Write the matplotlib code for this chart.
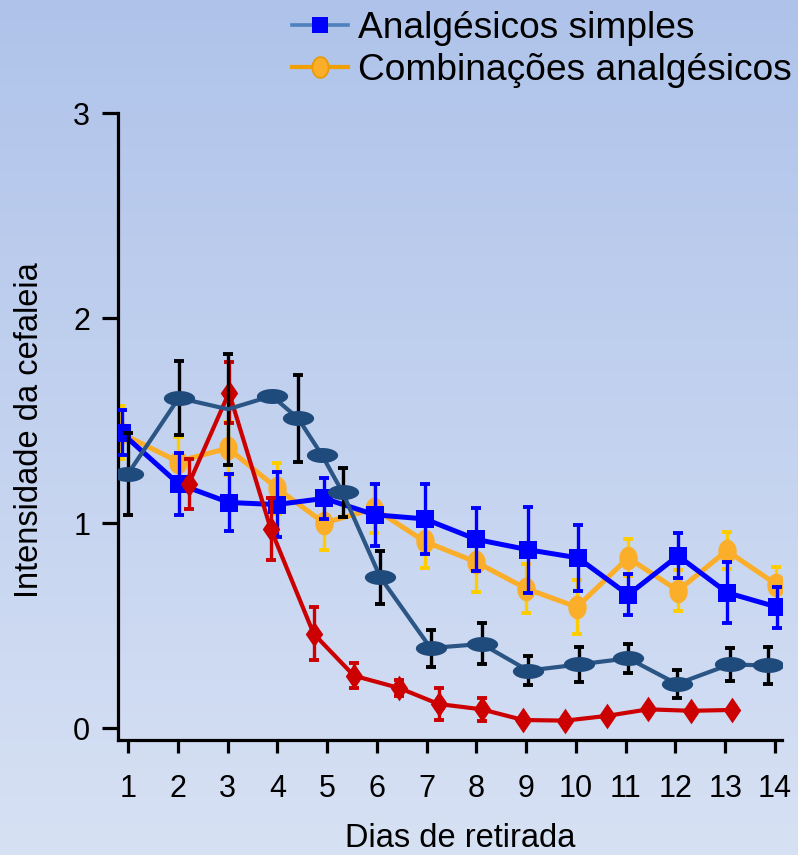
import numpy as np
import matplotlib
matplotlib.use("Agg")
import matplotlib.pyplot as plt
from matplotlib.path import Path
from matplotlib.lines import Line2D
from matplotlib.colors import LinearSegmentedColormap

plt.rcParams['font.family'] = ['Liberation Sans', 'DejaVu Sans']

# ---- data -------------------------------------------------------------
day_ticks = list(range(1, 15))
y_ticks = [0, 1, 2, 3]

simple_x = [0.87, 2.02, 3.03, 3.99, 4.94, 5.96, 6.96, 8.00, 9.03, 10.04, 11.05, 12.05, 13.04, 14.04]
simple_y = [1.44, 1.19, 1.10, 1.09, 1.12, 1.04, 1.02, 0.92, 0.87, 0.83, 0.65, 0.84, 0.66, 0.59]
simple_err = [0.11, 0.15, 0.14, 0.16, 0.10, 0.15, 0.17, 0.155, 0.21, 0.16, 0.10, 0.11, 0.15, 0.10]

combo_x = [0.84, 2.00, 3.01, 3.99, 4.94, 5.95, 6.96, 7.99, 9.00, 10.02, 11.05, 12.05, 13.03, 14.03]
combo_y = [1.44, 1.30, 1.365, 1.17, 1.00, 1.07, 0.91, 0.81, 0.68, 0.59, 0.83, 0.67, 0.865, 0.70]
combo_err = [0.13, 0.12, 0.13, 0.125, 0.13, 0.12, 0.13, 0.145, 0.12, 0.13, 0.09, 0.10, 0.09, 0.085]

ergot_x = [1.00, 2.02, 3.01, 3.89, 4.42, 4.90, 5.31, 6.07, 7.08, 8.11, 9.04, 10.06, 11.05, 12.03, 13.09, 13.86]
ergot_y = [1.24, 1.61, 1.555, 1.62, 1.51, 1.33, 1.15, 0.735, 0.39, 0.41, 0.28, 0.31, 0.34, 0.215, 0.31, 0.305]
ergot_err = [0.20, 0.18, 0.27, 0.0, 0.21, 0.0, 0.12, 0.13, 0.09, 0.10, 0.07, 0.085, 0.07, 0.07, 0.08, 0.09]
ergot_hidden = [2]

trip_x = [2.22, 3.03, 3.87, 4.73, 5.54, 6.45, 7.24, 8.11, 8.94, 9.79, 10.62, 11.45, 12.31, 13.14]
trip_y = [1.19, 1.636, 0.97, 0.46, 0.255, 0.195, 0.117, 0.091, 0.039, 0.036, 0.059, 0.091, 0.084, 0.088]
trip_err = [0.12, 0.15, 0.15, 0.13, 0.06, 0.04, 0.08, 0.055, 0, 0, 0, 0, 0, 0]

labels = ["Analgésicos simples", "Combinações analgésicos"]

# ---- colours ----------------------------------------------------------
C_BLUE = "#0000FF"
C_ORANGE = "#FBAE2A"
C_YELLOW = "#FFCC00"
C_NAVY = "#1F4A7C"
C_RED = "#CC0000"


def ellipse_path(rx, ry, n=72):
    t = np.linspace(0, 2 * np.pi, n)
    return Path(np.column_stack([rx * np.cos(t), ry * np.sin(t)]), closed=True)


def diamond_path(w, h):
    return Path([(0, h), (w, 0), (0, -h), (-w, 0), (0, h)], closed=True)


ELL_WIDE = ellipse_path(1.0, 0.48)
ELL_TALL = ellipse_path(0.78, 1.0)
DIAMOND = diamond_path(0.68, 1.0)

W, H = 798, 855
fig = plt.figure(figsize=(W / 100, H / 100), dpi=100)

# vertical gradient background
bg = fig.add_axes([0, 0, 1, 1], zorder=-10)
grad = np.linspace(0, 1, 256).reshape(-1, 1)
cmap = LinearSegmentedColormap.from_list("bg", ["#AFC3EA", "#D7E1F4"])
bg.imshow(grad, aspect="auto", cmap=cmap, extent=[0, 1, 0, 1], origin="upper")
bg.set_axis_off()

left, right, top, bottom = 118, 782, 113, 740
ax = fig.add_axes([left / W, 1 - bottom / H, (right - left) / W, (bottom - top) / H])
ax.set_facecolor("none")

y0_px = 728
scale = (y0_px - top) / 3.0
ax.set_ylim((y0_px - bottom) / scale, 3.0)
xs = (775 - 128) / 13.0
ax.set_xlim(1 - (128 - left) / xs, 14 + (right - 775) / xs)

# combinations (orange ellipses)
ax.errorbar(combo_x, combo_y, yerr=combo_err, fmt="none", ecolor=C_YELLOW,
            elinewidth=2.4, capsize=3.8, capthick=2.8, zorder=2)
ax.plot(combo_x, combo_y, color=C_ORANGE, lw=3.6, marker=ELL_TALL, ms=17,
        mfc=C_ORANGE, mec=C_ORANGE, mew=0, zorder=2.1)

# simple analgesics (blue squares)
ax.errorbar(simple_x, simple_y, yerr=simple_err, fmt="none", ecolor=C_BLUE,
            elinewidth=2.4, capsize=3.8, capthick=2.8, zorder=3)
ax.plot(simple_x, simple_y, color=C_BLUE, lw=3.6, marker="s", ms=12.8,
        mfc=C_BLUE, mec=C_BLUE, mew=0, zorder=3.1)

# red diamonds
ax.errorbar(trip_x, trip_y, yerr=trip_err, fmt="none", ecolor=C_RED,
            elinewidth=2.4, capsize=3.8, capthick=2.8, zorder=4)
ax.plot(trip_x, trip_y, color=C_RED, lw=3.0, marker=DIAMOND, ms=18.5,
        mfc=C_RED, mec=C_RED, mew=0, zorder=4.1)

# navy ellipses
ax.errorbar(ergot_x, ergot_y, yerr=ergot_err, fmt="none", ecolor="black",
            elinewidth=2.4, capsize=3.8, capthick=2.8, zorder=5)
shown = [i for i in range(len(ergot_x)) if i not in ergot_hidden]
ax.plot(ergot_x, ergot_y, color="#2A5585", lw=3.0, marker=ELL_WIDE, ms=22.5,
        mfc=C_NAVY, mec=C_NAVY, mew=0, markevery=shown, zorder=5.1)

# axes styling
for s in ("top", "right"):
    ax.spines[s].set_visible(False)
for s in ("left", "bottom"):
    ax.spines[s].set_linewidth(2.3)
    ax.spines[s].set_color("black")

ax.set_xticks(day_ticks)
ax.set_xticklabels([str(d) for d in day_ticks])
ax.set_yticks(y_ticks)
ax.set_yticklabels([str(v) for v in y_ticks])
ax.tick_params(axis="x", direction="out", length=9.5, width=2.3, pad=15,
               labelsize=22, colors="black")
ax.tick_params(axis="y", direction="out", length=11.5, width=2.3, pad=8.5,
               labelsize=22, colors="black")

ax.set_xlabel("Dias de retirada", fontsize=23.5, va="center")
ax.xaxis.set_label_coords(460 / W, 1 - 838 / H, transform=fig.transFigure)
ax.set_ylabel("Intensidade da cefaleia", fontsize=23.5, va="center")
ax.yaxis.set_label_coords(30 / W, 1 - 430 / H, transform=fig.transFigure)

handles = [
    Line2D([], [], color="#4F81BD", lw=2.6, marker="s", ms=11, mfc=C_BLUE,
           mec=C_BLUE, mew=0),
    Line2D([], [], color="#F0A000", lw=3.0, marker=ELL_TALL, ms=15,
           mfc=C_ORANGE, mec="#E89A00", mew=1.2),
]
fig.legend(handles, labels, loc="upper left",
           bbox_to_anchor=(292 / W, 1 - 11 / H), frameon=False,
           fontsize=26.7, handlelength=1.5, handletextpad=0.28,
           labelspacing=0.18, borderpad=0, borderaxespad=0)

fig.savefig("out.png", dpi=100)
